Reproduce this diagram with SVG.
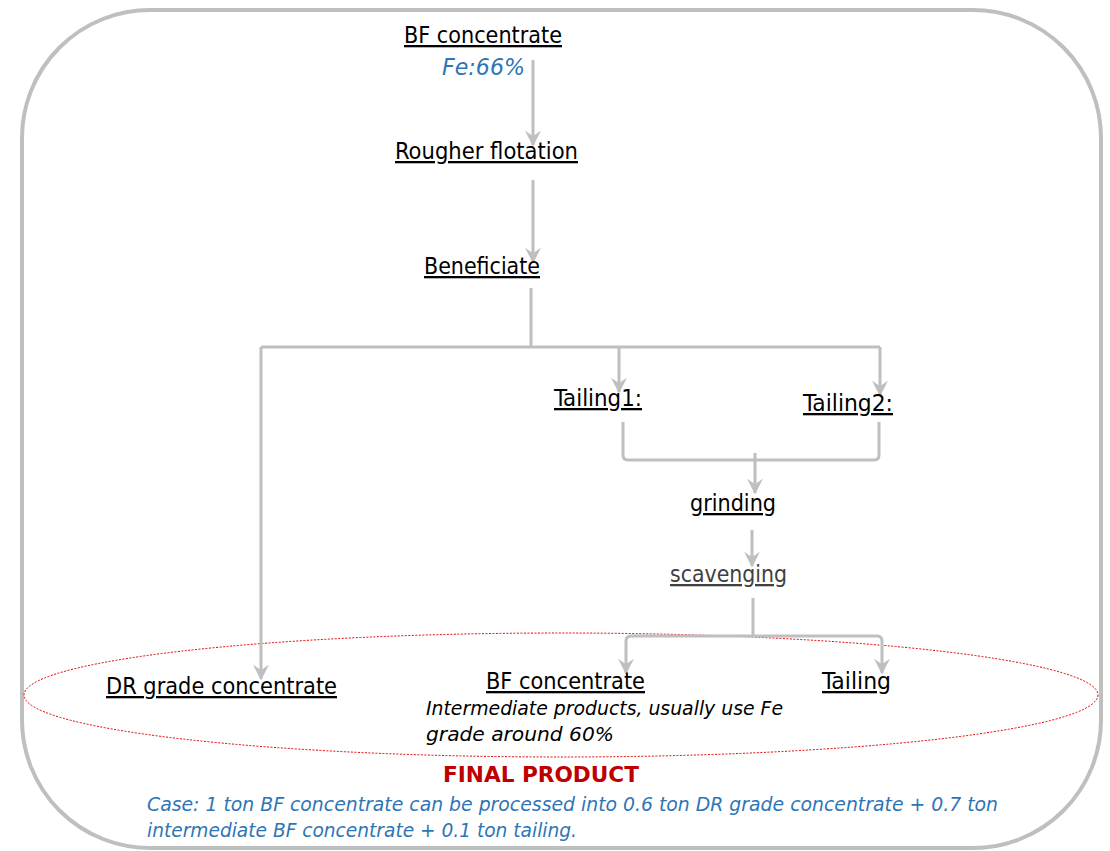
<svg xmlns="http://www.w3.org/2000/svg" width="1110" height="851" viewBox="0 0 1110 851">
<style>
.t{font-family:"DejaVu Sans Condensed","DejaVu Sans",sans-serif;font-stretch:condensed;font-size:23px;fill:#000;text-decoration:underline;}
.it{font-family:"DejaVu Sans Condensed","DejaVu Sans",sans-serif;font-stretch:condensed;font-style:italic;font-size:20px;fill:#000;}
.blue{fill:#2E75B6;}
.c{fill:none;stroke:#BFBFBF;stroke-width:3;}
</style>
<defs>
<marker id="ah" viewBox="0 0 10 10" refX="9" refY="5" markerWidth="16" markerHeight="16" markerUnits="userSpaceOnUse" orient="auto">
<path d="M0,0 L10,5 L0,10 L3.5,5 z" fill="#BFBFBF"/>
</marker>
</defs>
<rect x="22" y="10" width="1079" height="838" rx="128" ry="128" fill="#fff" stroke="#BFBFBF" stroke-width="4"/>
<ellipse cx="561" cy="695" rx="537" ry="62" fill="none" stroke="#E00000" stroke-width="1" stroke-dasharray="2,1.5"/>
<g id="connectors">
<path class="c" d="M533,60 V145" marker-end="url(#ah)"/>
<path class="c" d="M533,180 V262" marker-end="url(#ah)"/>
<path class="c" d="M531,288 V347"/>
<path class="c" d="M261,347 H880"/>
<path class="c" d="M261,347 V679" marker-end="url(#ah)"/>
<path class="c" d="M619,347 V392" marker-end="url(#ah)"/>
<path class="c" d="M880,347 V395" marker-end="url(#ah)"/>
<path class="c" d="M623,422 V455 Q623,460 628,460 H874 Q879,460 879,455 V422"/>
<path class="c" d="M755,453 V493" marker-end="url(#ah)"/>
<path class="c" d="M752,530 V566" marker-end="url(#ah)"/>
<path class="c" d="M753,598 V636"/>
<path class="c" d="M754,636 H631 Q626,636 626,641 V673" marker-end="url(#ah)"/>
<path class="c" d="M754,636 H877 Q882,636 882,641 V673" marker-end="url(#ah)"/>
</g>
<g id="n-bf">
<text class="t" x="404" y="43" textLength="158" lengthAdjust="spacingAndGlyphs">BF concentrate</text>
<text class="it blue" x="442" y="75" style="font-size:23px" textLength="83" lengthAdjust="spacingAndGlyphs">Fe:66%</text>
</g>
<g id="n-rougher"><text class="t" x="395" y="159" textLength="183" lengthAdjust="spacingAndGlyphs">Rougher flotation</text></g>
<g id="n-benef"><text class="t" x="424" y="274" textLength="116" lengthAdjust="spacingAndGlyphs">Beneficiate</text></g>
<g id="n-t1"><text class="t" x="554" y="406" textLength="88" lengthAdjust="spacingAndGlyphs">Tailing1:</text></g>
<g id="n-t2"><text class="t" x="803" y="411" textLength="90" lengthAdjust="spacingAndGlyphs">Tailing2:</text></g>
<g id="n-grind"><text class="t" x="690" y="511" textLength="86" lengthAdjust="spacingAndGlyphs">grinding</text></g>
<g id="n-scav"><text class="t" x="670" y="582" style="fill:#404040" textLength="117" lengthAdjust="spacingAndGlyphs">scavenging</text></g>
<g id="n-dr"><text class="t" x="106" y="694" textLength="231" lengthAdjust="spacingAndGlyphs">DR grade concentrate</text></g>
<g id="n-bf2">
<text class="t" x="486" y="689" textLength="159" lengthAdjust="spacingAndGlyphs">BF concentrate</text>
<text class="it" x="426" y="715" textLength="357" lengthAdjust="spacingAndGlyphs">Intermediate products, usually use Fe</text>
<text class="it" x="426" y="741" textLength="188" lengthAdjust="spacingAndGlyphs">grade around 60%</text>
</g>
<g id="n-tail"><text class="t" x="822" y="689" textLength="69" lengthAdjust="spacingAndGlyphs">Tailing</text></g>
<g id="n-final">
<text x="443" y="782" font-family="DejaVu Sans Condensed, DejaVu Sans, sans-serif" font-stretch="condensed" font-weight="bold" font-size="22" fill="#C00000" textLength="196" lengthAdjust="spacingAndGlyphs">FINAL PRODUCT</text>
<text class="it blue" x="147" y="811" textLength="851" lengthAdjust="spacingAndGlyphs">Case: 1 ton BF concentrate can be processed into 0.6 ton DR grade concentrate + 0.7 ton</text>
<text class="it blue" x="147" y="837" textLength="430" lengthAdjust="spacingAndGlyphs">intermediate BF concentrate + 0.1 ton tailing.</text>
</g>
</svg>
